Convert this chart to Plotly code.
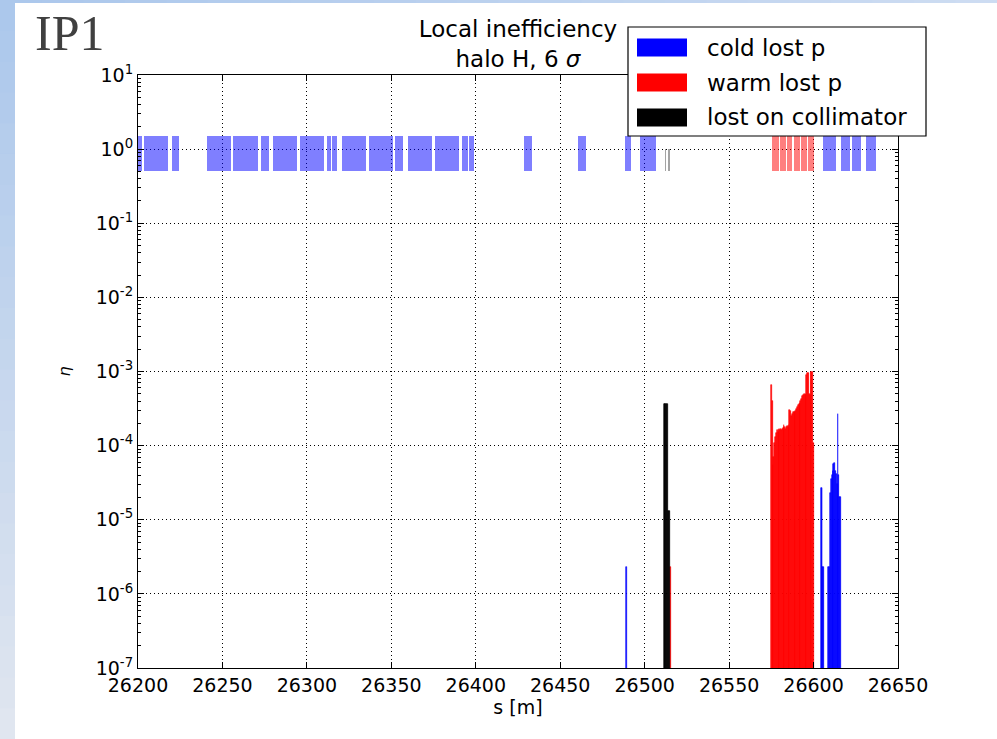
import plotly.graph_objects as go

# ---------------- data ----------------
# element layout markers (start / end of each element, s in m)
cold_elem_start = [26200.0, 26203.6, 26220.1, 26240.9, 26256.2, 26272.8, 26279.9, 26295.9, 26311.9,
                   26314.9, 26320.8, 26336.8, 26352.2, 26359.9, 26375.9, 26391.8, 26396.0, 26428.6,
                   26460.5, 26488.4, 26497.2, 26605.6, 26616.3, 26622.7, 26631.0]
cold_elem_end = [26202.4, 26217.8, 26224.3, 26255.1, 26271.1, 26277.6, 26294.1, 26310.1, 26314.3,
                 26317.8, 26335.0, 26351.0, 26356.9, 26374.1, 26390.1, 26395.4, 26399.0, 26433.3,
                 26465.2, 26491.9, 26506.7, 26613.3, 26621.6, 26628.1, 26637.0]
warm_elem_start = [26575.6, 26580.1, 26584.1, 26588.4, 26592.6, 26596.7]
warm_elem_end = [26579.5, 26583.5, 26587.4, 26591.8, 26595.9, 26600.5]
coll_elem_start = [26512.0, 26514.0]
coll_elem_end = [26512.8, 26515.2]

# local inefficiency (loss maps)
cold_loss_s = [26489.3, 26604.5, 26605.0, 26605.5, 26606.0, 26609.0, 26609.5, 26610.0, 26610.5,
               26611.0, 26611.5, 26612.0, 26612.5, 26613.0, 26613.5, 26614.0, 26614.5, 26615.0,
               26615.5, 26616.0]
cold_loss_eta = [2.3e-6, 2.7e-5, 2.7e-5, 2.3e-6, 2.3e-6, 2.3e-6, 2.3e-6, 2.3e-5, 3.5e-5,
                 4.0e-5, 4.5e-5, 5.6e-5, 5.8e-5, 4.5e-5, 4.2e-5, 3.0e-5, 2.7e-4, 4.0e-5,
                 2.0e-5, 2.0e-5]

warm_loss_s = [26515.3, 26575.0, 26575.5, 26576.0, 26576.5, 26577.0, 26577.5, 26578.0, 26578.5,
               26579.0, 26579.5, 26580.0, 26580.5, 26581.0, 26581.5, 26582.0, 26582.5, 26583.0,
               26583.5, 26584.0, 26584.5, 26585.0, 26585.5, 26586.0, 26586.5, 26587.0, 26587.5,
               26588.0, 26588.5, 26589.0, 26589.5, 26590.0, 26590.5, 26591.0, 26591.5, 26592.0,
               26592.5, 26593.0, 26593.5, 26594.0, 26594.5, 26595.0, 26595.5, 26596.0, 26596.5,
               26597.0, 26597.5, 26598.0, 26598.5, 26599.0, 26599.5, 26600.0]
warm_loss_eta = [2.3e-6, 6.5e-4, 4.0e-4, 5.5e-5, 7.0e-5, 1.1e-4, 1.3e-4, 1.5e-4, 1.6e-4,
                 1.55e-4, 1.7e-4, 1.65e-4, 1.7e-4, 1.6e-4, 1.7e-4, 1.75e-4, 1.9e-4, 1.8e-4,
                 1.7e-4, 1.8e-4, 1.85e-4, 1.8e-4, 1.9e-4, 3.0e-4, 2.9e-4, 2.5e-4, 2.7e-4,
                 2.8e-4, 2.8e-4, 2.85e-4, 2.9e-4, 3.1e-4, 3.3e-4, 3.5e-4, 3.7e-4, 3.8e-4,
                 4.0e-4, 4.3e-4, 4.7e-4, 4.8e-4, 4.9e-4, 4.8e-4, 4.9e-4, 9.0e-4, 9.6e-4,
                 9.4e-4, 5.0e-4, 4.8e-4, 9.8e-4, 1.0e-3, 1.0e-3, 1.1e-4]

coll_loss_s = [26511.5, 26512.0, 26512.5, 26513.0, 26513.5, 26514.0, 26514.5]
coll_loss_eta = [3.7e-4, 3.7e-4, 3.7e-4, 3.7e-4, 3.7e-4, 1.3e-5, 1.3e-5]

x_ticks = [26200, 26250, 26300, 26350, 26400, 26450, 26500, 26550, 26600, 26650]
y_exponents = [-7, -6, -5, -4, -3, -2, -1, 0, 1]
legend_labels = ["cold lost p", "warm lost p", "lost on collimator"]

# ---------------- style / layout constants ----------------
W, H = 997, 739
L, R, T, B = 138, 898, 75, 668
BIN = 0.5
MARK_LO, MARK_HI = 0.5, 1.5
FONT = "DejaVu Sans"


def px_x(px):
    return (px - L) / (R - L)


def px_y(py):
    return (B - py) / (B - T)


def elem_bar(starts, ends, color, top):
    centers = [(a + b) / 2 for a, b in zip(starts, ends)]
    widths = [b - a for a, b in zip(starts, ends)]
    return go.Bar(x=centers, y=[top - MARK_LO] * len(starts), base=[MARK_LO] * len(starts),
                  width=widths, marker=dict(color=color, line=dict(width=0)),
                  showlegend=False, hoverinfo="skip")


def loss_bar(s, eta, color, name):
    return go.Bar(x=s, y=eta, width=BIN, name=name,
                  marker=dict(color=color, line=dict(width=0.6, color=color)),
                  showlegend=False)


fig = go.Figure()
fig.add_trace(elem_bar(cold_elem_start, cold_elem_end, "rgba(0,0,255,0.5)", MARK_HI))
fig.add_trace(elem_bar(warm_elem_start, warm_elem_end, "rgba(255,0,0,0.5)", MARK_HI))
fig.add_trace(elem_bar(coll_elem_start, coll_elem_end, "rgba(90,90,90,0.55)", 1.0))
fig.add_trace(loss_bar(cold_loss_s, cold_loss_eta, "#0000ff", legend_labels[0]))
fig.add_trace(loss_bar(warm_loss_s, warm_loss_eta, "#ff0000", legend_labels[1]))
fig.add_trace(loss_bar(coll_loss_s, coll_loss_eta, "#000000", legend_labels[2]))

shapes = []
annotations = []

# slide background gradient strips
n = 24
for i in range(n):
    t = i / (n - 1)
    c = (int(172 + (224 - 172) * t), int(200 + (230 - 200) * t), int(236 + (240 - 236) * t))
    shapes.append(dict(type="rect", xref="paper", yref="paper", layer="below",
                       x0=px_x(0), x1=px_x(15), y0=px_y(i * H / n), y1=px_y((i + 1) * H / n + 1),
                       fillcolor="rgb(%d,%d,%d)" % c, line=dict(width=0)))
for i in range(n):
    t = i / (n - 1)
    c = (int(172 + (205 - 172) * t), int(200 + (220 - 200) * t), int(236 + (242 - 236) * t))
    shapes.append(dict(type="rect", xref="paper", yref="paper", layer="below",
                       x0=px_x(i * W / n), x1=px_x((i + 1) * W / n + 1), y0=px_y(3), y1=px_y(0),
                       fillcolor="rgb(%d,%d,%d)" % c, line=dict(width=0)))

# legend box (drawn like the matplotlib legend)
shapes.append(dict(type="rect", xref="paper", yref="paper", layer="above",
                   x0=px_x(628), x1=px_x(926), y0=px_y(136), y1=px_y(27),
                   fillcolor="white", line=dict(color="black", width=1.2)))
leg_colors = ["#0000ff", "#ff0000", "#000000"]
leg_rows = [47.5, 82.5, 117.5]
for lab, col, yy in zip(legend_labels, leg_colors, leg_rows):
    shapes.append(dict(type="rect", xref="paper", yref="paper", layer="above",
                       x0=px_x(637), x1=px_x(687), y0=px_y(yy + 9), y1=px_y(yy - 9),
                       fillcolor=col, line=dict(width=0)))
    annotations.append(dict(text=lab, xref="paper", yref="paper", x=px_x(705), y=px_y(yy),
                            xanchor="left", yanchor="middle", showarrow=False,
                            font=dict(family=FONT, size=23, color="black")))

annotations.append(dict(text="IP1", xref="paper", yref="paper", x=px_x(33), y=px_y(33),
                        xanchor="left", yanchor="middle", showarrow=False,
                        font=dict(family="Liberation Serif", size=50, color="#404040")))

minor_vals = [m * 10.0 ** e for e in y_exponents[:-1] for m in range(2, 10)]

fig.update_layout(
    width=W, height=H,
    margin=dict(l=L, r=W - R, t=T, b=H - B, pad=0),
    paper_bgcolor="white", plot_bgcolor="white",
    barmode="overlay", bargap=0,
    showlegend=False,
    font=dict(family=FONT, size=19, color="black"),
    title=dict(text="Local inefficiency<br>halo H, 6 <i>σ</i>", x=0.5, xref="paper",
               xanchor="center", y=1 - 37 / H, yref="container", yanchor="top",
               font=dict(family=FONT, size=23, color="black")),
    shapes=shapes,
    annotations=annotations,
    xaxis=dict(range=[26200, 26650], tickvals=x_ticks, ticktext=[str(v) for v in x_ticks],
               ticks="inside", ticklen=6, tickcolor="black", showline=True, linecolor="black",
               linewidth=1.2, mirror="ticks", showgrid=True, gridcolor="black", gridwidth=1,
               griddash="1px,3px", zeroline=False,
               title=dict(text="s [m]", standoff=3, font=dict(family=FONT, size=19))),
    yaxis=dict(type="log", range=[-7, 1], tickvals=[10.0 ** e for e in y_exponents],
               ticktext=["10<sup>%d</sup>" % e for e in y_exponents],
               ticks="inside", ticklen=6, tickcolor="black", showline=True, linecolor="black",
               linewidth=1.2, mirror="ticks", showgrid=True, gridcolor="black", gridwidth=1,
               griddash="1px,3px", zeroline=False,
               minor=dict(tickvals=minor_vals, ticks="inside", ticklen=3, tickcolor="black",
                          showgrid=False),
               title=dict(text="<i>η</i>", standoff=21, font=dict(family=FONT, size=16))),
)

fig.write_html("out.html", config={"displayModeBar": False},
               post_script="document.body.style.margin='0px';")
